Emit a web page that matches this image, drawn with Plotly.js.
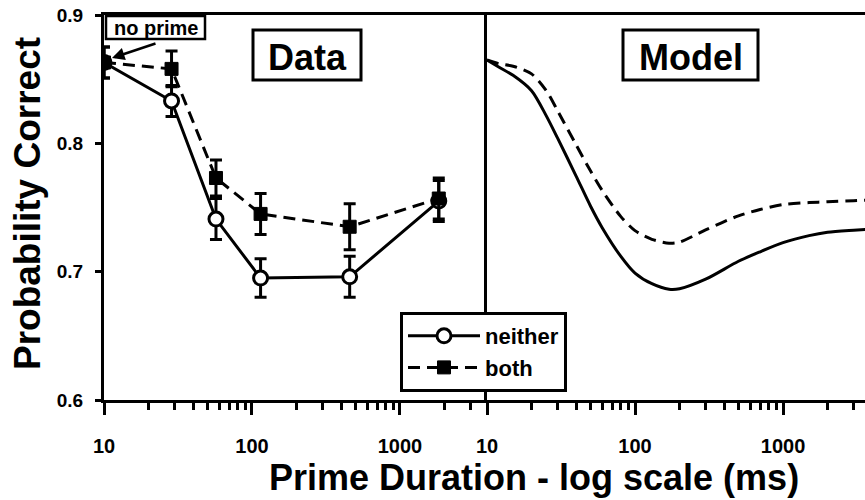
<!DOCTYPE html>
<html>
<head>
<meta charset="utf-8">
<script src="https://cdn.plot.ly/plotly-3.0.1.min.js"></script>
<style>html,body{margin:0;padding:0;background:#fff;}#chart{width:865px;height:500px;}</style>
</head>
<body>
<div id="chart"></div>
<script>
// ---- Data ----
const durations = [10, 28.6, 57.1, 114.3, 457.1, 1828.6];
const neitherP = [0.863, 0.833, 0.741, 0.695, 0.696, 0.755];
const neitherErr = [0.012, 0.012, 0.016, 0.015, 0.016, 0.016];
const bothP = [0.863, 0.858, 0.773, 0.745, 0.735, 0.757];
const bothErr = [0.012, 0.014, 0.014, 0.016, 0.018, 0.016];

const modelDur = [10, 12, 15, 20, 25, 30, 40, 50, 60, 80, 100, 130, 170, 200, 300, 500, 700, 1000, 1500, 2000, 3000, 3600];
const modelNeither = [0.865, 0.8595, 0.853, 0.841, 0.822, 0.804, 0.7745, 0.7512, 0.7343, 0.7121, 0.6989, 0.6906, 0.6863, 0.6867, 0.6941, 0.7081, 0.7155, 0.7226, 0.7281, 0.7307, 0.7323, 0.7329];
const modelBoth = [0.865, 0.8621, 0.8601, 0.8541, 0.8415, 0.8254, 0.7988, 0.7786, 0.7633, 0.7431, 0.7320, 0.7252, 0.7222, 0.7230, 0.7326, 0.7435, 0.7484, 0.7523, 0.7538, 0.7545, 0.7553, 0.7557];

const yTicks = [0.6, 0.7, 0.8, 0.9];
const yTickText = ['0.6', '0.7', '0.8', '0.9'];
const xMajor = [10, 100, 1000];
const xMajorText = ['10', '100', '1000'];
const xMinor = [20, 30, 40, 50, 60, 70, 80, 90, 200, 300, 400, 500, 600, 700, 800, 900, 2000, 3000];
const legendNames = ['neither', 'both'];
const panelLabels = ['Data', 'Model'];

// ---- Styles ----
const FONT = 'Liberation Sans, Arial, Helvetica, sans-serif';
const LW = 3;
const DASH = '12px,7px';
const bold = s => '<b>' + s + '</b>';

const traces = [
  {
    x: durations, y: neitherP, name: bold(legendNames[0]), xaxis: 'x', yaxis: 'y',
    mode: 'lines+markers', type: 'scatter',
    line: {color: 'black', width: LW},
    marker: {symbol: 'circle', size: 14, color: 'white', line: {color: 'black', width: 3}},
    error_y: {type: 'data', array: neitherErr, visible: true, color: 'black', thickness: 3, width: 6}
  },
  {
    x: durations, y: bothP, name: bold(legendNames[1]), xaxis: 'x', yaxis: 'y',
    mode: 'lines+markers', type: 'scatter',
    line: {color: 'black', width: LW, dash: DASH},
    marker: {symbol: 'square', size: 13, color: 'black', line: {color: 'black', width: 1}},
    error_y: {type: 'data', array: bothErr, visible: true, color: 'black', thickness: 3, width: 6}
  },
  {
    x: modelDur, y: modelNeither, xaxis: 'x2', yaxis: 'y2', showlegend: false,
    mode: 'lines', type: 'scatter', line: {color: 'black', width: LW, shape: 'spline', smoothing: 0.8}
  },
  {
    x: modelDur, y: modelBoth, xaxis: 'x2', yaxis: 'y2', showlegend: false,
    mode: 'lines', type: 'scatter', line: {color: 'black', width: LW, dash: DASH, shape: 'spline', smoothing: 0.8}
  }
];

const split = 383 / 761;

function xAxis(domain, range) {
  return {
    type: 'log', domain: domain, range: range,
    tickmode: 'array', tickvals: xMajor, ticktext: xMajorText.map(bold),
    ticks: 'outside', ticklen: 12, tickwidth: 3, tickcolor: 'black',
    ticklabelstandoff: 14,
    minor: {tickmode: 'array', tickvals: xMinor, ticks: 'outside', ticklen: 7, tickwidth: 3, tickcolor: 'black', showgrid: false},
    showline: true, linewidth: LW, linecolor: 'black', mirror: true,
    showgrid: false, zeroline: false,
    tickfont: {family: FONT, size: 20, color: 'black'}, fixedrange: true
  };
}

const layout = {
  width: 865, height: 500,
  margin: {l: 104, r: 0, t: 15, b: 100, pad: 0},
  paper_bgcolor: 'white', plot_bgcolor: 'white',
  font: {family: FONT, color: 'black', size: 20},
  showlegend: true,
  xaxis: xAxis([0, split], [1, 3.588]),
  xaxis2: xAxis([split, 1], [1, 3.554]),
  yaxis: {
    domain: [0, 1], range: [0.6, 0.9], anchor: 'x',
    tickmode: 'array', tickvals: yTicks, ticktext: yTickText.map(bold),
    ticks: 'outside', ticklen: 6, tickwidth: 3, tickcolor: 'black',
    ticklabelstandoff: 8,
    showline: true, linewidth: LW, linecolor: 'black',
    showgrid: false, zeroline: false,
    tickfont: {family: FONT, size: 19, color: 'black'}, fixedrange: true
  },
  yaxis2: {
    domain: [0, 1], range: [0.6, 0.9], anchor: 'x2',
    showticklabels: false, ticks: '',
    showline: true, linewidth: LW, linecolor: 'black',
    showgrid: false, zeroline: false, fixedrange: true
  },
  legend: {
    x: (400 - 104) / 761, y: (400 - 312) / 385, xanchor: 'left', yanchor: 'top',
    bgcolor: 'white', bordercolor: 'black', borderwidth: 3,
    itemwidth: 72, tracegroupgap: 0,
    font: {family: FONT, size: 22, color: 'black'}
  },
  shapes: [
    {type: 'rect', xref: 'paper', yref: 'paper', x0: (253 - 104) / 761, x1: (361 - 104) / 761, y0: (400 - 80) / 385, y1: (400 - 30) / 385, line: {color: 'black', width: 3}, fillcolor: 'white', layer: 'above'},
    {type: 'rect', xref: 'paper', yref: 'paper', x0: (623 - 104) / 761, x1: (758 - 104) / 761, y0: (400 - 80) / 385, y1: (400 - 30) / 385, line: {color: 'black', width: 3}, fillcolor: 'white', layer: 'above'},
    {type: 'rect', xref: 'paper', yref: 'paper', x0: (106 - 104) / 761, x1: (205 - 104) / 761, y0: (400 - 39) / 385, y1: (400 - 16) / 385, line: {color: 'black', width: 2.5}, fillcolor: 'white', layer: 'above'}
  ],
  annotations: [
    {text: bold(panelLabels[0]), xref: 'paper', yref: 'paper', x: (307 - 104) / 761, y: (400 - 57) / 385, xanchor: 'center', yanchor: 'middle', showarrow: false, font: {family: FONT, size: 36, color: 'black'}},
    {text: bold(panelLabels[1]), xref: 'paper', yref: 'paper', x: (690.5 - 104) / 761, y: (400 - 57) / 385, xanchor: 'center', yanchor: 'middle', showarrow: false, font: {family: FONT, size: 36, color: 'black'}},
    {text: bold('no prime'), xref: 'paper', yref: 'paper', x: (156 - 104) / 761, y: (400 - 28) / 385, xanchor: 'center', yanchor: 'middle', showarrow: false, font: {family: FONT, size: 20, color: 'black'}},
    {text: '', xref: 'paper', yref: 'paper', x: (112 - 104) / 761, y: (400 - 58) / 385, showarrow: true, ax: 45, ay: -15, arrowhead: 2, arrowsize: 1, arrowwidth: 2.5, arrowcolor: 'black'},
    {text: bold('Probability Correct'), xref: 'paper', yref: 'paper', x: (27 - 104) / 761, y: (400 - 204) / 385, xanchor: 'center', yanchor: 'middle', textangle: -90, showarrow: false, font: {family: FONT, size: 37, color: 'black'}},
    {text: bold('Prime Duration - log scale (ms)'), xref: 'paper', yref: 'paper', x: (534 - 104) / 761, y: (400 - 477) / 385, xanchor: 'center', yanchor: 'middle', showarrow: false, font: {family: FONT, size: 36, color: 'black'}}
  ]
};

Plotly.newPlot('chart', traces, layout, {staticPlot: true, displayModeBar: false});
</script>
</body>
</html>
